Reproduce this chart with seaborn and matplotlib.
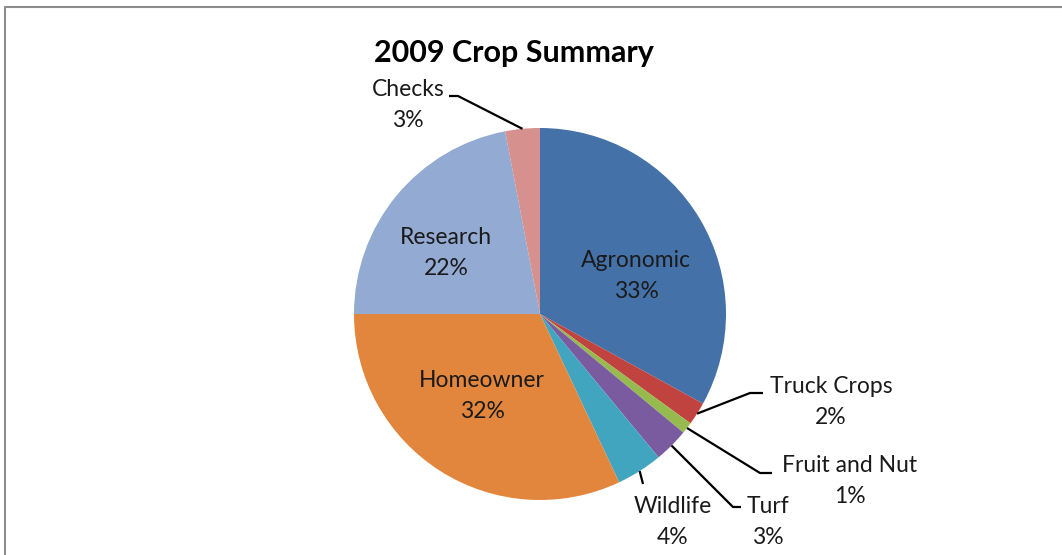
import matplotlib.pyplot as plt
import numpy as np
import seaborn as sns
from matplotlib.lines import Line2D

# data
categories = ["Agronomic", "Truck Crops", "Fruit and Nut", "Turf",
              "Wildlife", "Homeowner", "Research", "Checks"]
shares = [33, 2, 1, 3, 4, 32, 22, 3]
colors = ["#4472A8", "#C0433F", "#97BA4E", "#7A5BA0",
          "#42A5BF", "#E3863D", "#93AAD3", "#D6908D"]

W, H = 1062, 555
CENTER = (540, 314)   # pixel, y down
RADIUS = 186

# label layout in pixels (y down): text centre, and leader elbow/end
inside_pos = {"Agronomic": (636, 276), "Research": (446, 253), "Homeowner": (482, 396)}
outside_pos = {
    "Truck Crops": ((831, 402), [(750, 393), (763, 393)]),
    "Fruit and Nut": ((850, 481), [(760, 473), (772, 473)]),
    "Turf": ((768, 522), [(733, 507), (741, 507)]),
    "Wildlife": ((673, 522), [(643, 484)]),
    "Checks": ((408, 105), [(458, 96), (449, 96)]),
}

sns.set_theme(style="white")
plt.rcParams["font.family"] = ["Lato", "DejaVu Sans"]


def px(x, y):
    return x, H - y


fig = plt.figure(figsize=(W / 100, H / 100), dpi=100)
ax = fig.add_axes([0, 0, 1, 1])
wedges, _ = ax.pie(shares, colors=colors, startangle=90, counterclock=False,
                   center=px(*CENTER), radius=RADIUS,
                   wedgeprops=dict(linewidth=0))
ax.set_xlim(0, W)
ax.set_ylim(0, H)
ax.set_aspect("equal")
ax.axis("off")

label_kw = dict(ha="center", va="center", fontsize=16.5, color="#1a1a1a", linespacing=1.55)
for name, share, wedge in zip(categories, shares, wedges):
    text = f"{name}\n{share}%"
    if name in inside_pos:
        ax.text(*px(*inside_pos[name]), text, **label_kw)
        continue
    (tx, ty), path = outside_pos[name]
    mid = np.deg2rad((wedge.theta1 + wedge.theta2) / 2)
    cx, cy = wedge.center
    anchor = (cx + RADIUS * np.cos(mid), cy + RADIUS * np.sin(mid))
    pts = [anchor] + [px(x, y) for x, y in path]
    ax.plot([p[0] for p in pts], [p[1] for p in pts], color="black", lw=1.6,
            solid_capstyle="butt")
    ax.text(*px(tx, ty), text, **label_kw)

fig.text(514 / W, 1 - 53 / H, "2009 Crop Summary", ha="center", va="center",
         fontsize=22, fontweight="bold", color="black")

# chart-area border (left and top edges visible in the crop)
fig.add_artist(Line2D([5 / W, 5 / W, 1.0], [0, 1 - 7 / H, 1 - 7 / H],
                      transform=fig.transFigure, color="#8c8c8c", lw=1.5))

fig.savefig("out.png", dpi=100, facecolor="white")
